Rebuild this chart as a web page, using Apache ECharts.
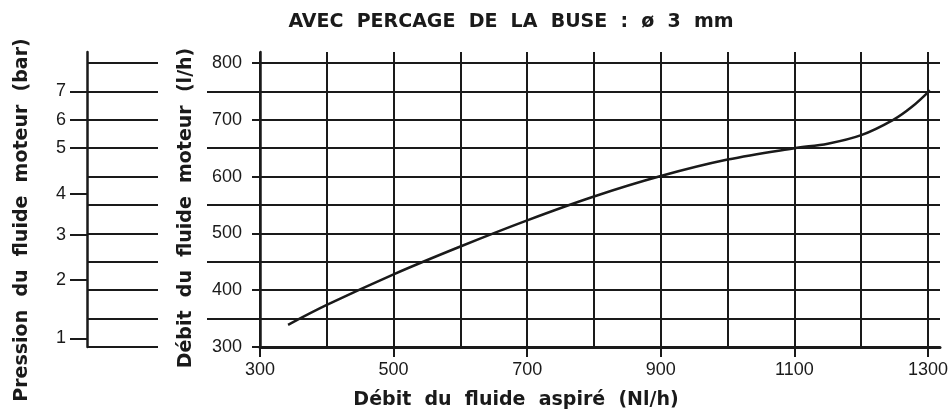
<!DOCTYPE html>
<html><head><meta charset="utf-8">
<script src="https://cdn.jsdelivr.net/npm/echarts@6/dist/echarts.min.js"></script>
<style>html,body{margin:0;padding:0;background:#fff}#c{width:952px;height:416px}</style>
</head><body><div id="c"></div>
<script>
// Curve: débit du fluide aspiré (Nl/h) -> débit du fluide moteur (l/h)
const flowAspire = [342, 400, 500, 600, 700, 800, 900, 1000, 1100, 1150, 1200, 1248, 1276, 1303];
const flowMoteur = [339, 374, 428, 477, 523, 565, 601, 630, 650, 658, 673, 700, 723, 752];
// Axis ticks
const xTickLabels = [300, 500, 700, 900, 1100, 1300];
const yTickLabels = [300, 400, 500, 600, 700, 800];
const yTickMarks = [300, 350, 400, 450, 500, 550, 600, 650, 700, 750, 800];
// Pressure scale (bar) and its matching position on the flow scale (l/h)
const pressureLabels = [1, 2, 3, 4, 5, 6, 7];
const pressureAtFlow = [315, 418, 497, 570, 650, 700, 750];
// Texts
const titleText = 'AVEC  PERCAGE  DE  LA  BUSE  :  ø  3  mm';
const xName = 'Débit  du  fluide  aspiré  (Nl/h)';
const yName = 'Débit  du  fluide  moteur  (l/h)';
const pName = 'Pression  du  fluide  moteur  (bar)';

const INK = '#1a1a1a';
const X_MIN = 300, X_MAX = 1318, Y_MIN = 300, Y_MAX = 819.4;
const boldFont = {fontFamily: 'DejaVu Sans', fontWeight: 'bold', fontSize: 19, fill: INK};

const chart = echarts.init(document.getElementById('c'), null, {renderer: 'canvas'});
const hidden = {show: false};
chart.setOption({
  backgroundColor: '#ffffff',
  animation: false,
  title: {
    text: titleText, left: 506, top: 8, textAlign: 'center',
    textStyle: {fontFamily: 'DejaVu Sans', fontWeight: 'bold', fontSize: 19, color: INK}
  },
  grid: [
    {left: 260, right: 12, top: 52, bottom: 69},      // main plot
    {left: 207, width: 53, top: 52, bottom: 97.4},     // left stubs of the odd lines
    {left: 87, width: 71, top: 52, bottom: 69}         // pressure scale
  ],
  xAxis: [
    { gridIndex: 0, type: 'value', min: X_MIN, max: X_MAX, interval: 100,
      axisLine: {show: true, lineStyle: {color: INK, width: 3}},
      axisTick: hidden, axisLabel: hidden,
      splitLine: {show: true, showMaxLine: false, lineStyle: {color: INK, width: 2, type: 'solid'}} },
    { gridIndex: 0, type: 'value', min: X_MIN, max: X_MAX, position: 'bottom',
      axisLine: hidden, splitLine: hidden,
      axisTick: {show: true, length: 10, customValues: xTickLabels, lineStyle: {color: INK, width: 2}},
      axisLabel: {show: true, customValues: xTickLabels, margin: 14, color: INK,
        fontFamily: 'Liberation Sans', fontSize: 18,
        formatter: function (v) { return String(Math.round(v)); } } },
    { gridIndex: 1, type: 'value', min: 0, max: 1, show: false },
    { gridIndex: 2, type: 'value', min: 0, max: 1, show: false }
  ],
  yAxis: [
    { gridIndex: 0, type: 'value', min: Y_MIN, max: Y_MAX, interval: 50,
      axisLine: {show: true, lineStyle: {color: INK, width: 2.5}},
      axisTick: hidden, axisLabel: hidden,
      splitLine: {show: true, showMaxLine: false, lineStyle: {color: INK, width: 2, type: 'solid'}} },
    { gridIndex: 0, type: 'value', min: Y_MIN, max: Y_MAX, position: 'left',
      axisLine: hidden, splitLine: hidden,
      axisTick: {show: true, length: 8, customValues: yTickMarks, lineStyle: {color: INK, width: 2}},
      axisLabel: {show: true, customValues: yTickLabels, margin: 18, color: INK,
        fontFamily: 'Liberation Sans', fontSize: 18,
        formatter: function (v) { return String(Math.round(v)); } } },
    { gridIndex: 1, type: 'value', min: 350, max: Y_MAX, interval: 100,
      axisLine: hidden, axisTick: hidden, axisLabel: hidden,
      splitLine: {show: true, showMaxLine: false, lineStyle: {color: INK, width: 2, type: 'solid'}} },
    { gridIndex: 2, type: 'value', min: Y_MIN, max: Y_MAX, interval: 50,
      axisLine: {show: true, lineStyle: {color: INK, width: 2.5}},
      axisTick: hidden, axisLabel: hidden,
      splitLine: {show: true, showMaxLine: false, lineStyle: {color: INK, width: 2, type: 'solid'}} },
    { gridIndex: 2, type: 'value', min: Y_MIN, max: Y_MAX, position: 'left',
      axisLine: hidden, splitLine: hidden,
      axisTick: {show: true, length: 17, customValues: pressureAtFlow, lineStyle: {color: INK, width: 2}},
      axisLabel: {show: true, customValues: pressureAtFlow, margin: 21, color: INK,
        fontFamily: 'Liberation Sans', fontSize: 18,
        formatter: function (v) {
          const i = pressureAtFlow.indexOf(Math.round(v));
          return i >= 0 ? String(pressureLabels[i]) : '';
        } } }
  ],
  series: [{
    type: 'line', xAxisIndex: 0, yAxisIndex: 0,
    data: flowAspire.map((x, i) => [x, flowMoteur[i]]),
    smooth: 0.35, showSymbol: false, symbol: 'none',
    lineStyle: {color: INK, width: 2.5}
  }],
  graphic: [
    {type: 'text', x: 516, y: 400, style: Object.assign({text: xName, align: 'center', verticalAlign: 'middle'}, boldFont)},
    {type: 'text', x: 186, y: 208, rotation: Math.PI / 2, style: Object.assign({text: yName, align: 'center', verticalAlign: 'middle'}, boldFont)},
    {type: 'text', x: 22, y: 220, rotation: Math.PI / 2, style: Object.assign({text: pName, align: 'center', verticalAlign: 'middle'}, boldFont)}
  ]
});
</script>
</body></html>
